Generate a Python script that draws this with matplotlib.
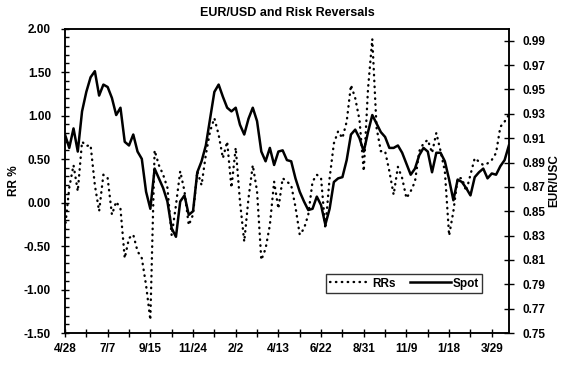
import matplotlib.pyplot as plt
import matplotlib.dates as mdates
import matplotlib.ticker as mticker
import numpy as np
import pandas as pd

plt.rcParams['font.family'] = ['Liberation Sans', 'DejaVu Sans']
plt.rcParams['font.size'] = 8.5
plt.rcParams['font.weight'] = 'bold'

# weekly observations from 4/28/2000
dates = pd.date_range('2000-04-28', periods=105, freq='7D')

spot = [0.913, 0.902, 0.918, 0.899, 0.932, 0.948, 0.960, 0.965, 0.945, 0.954,
        0.952, 0.943, 0.929, 0.935, 0.907, 0.904, 0.913, 0.899, 0.893, 0.866,
        0.852, 0.885, 0.877, 0.869, 0.858, 0.836, 0.829, 0.858, 0.863, 0.847,
        0.850, 0.882, 0.891, 0.904, 0.926, 0.948, 0.954, 0.944, 0.935, 0.932,
        0.935, 0.921, 0.913, 0.926, 0.935, 0.924, 0.899, 0.891, 0.902, 0.888,
        0.899, 0.900, 0.892, 0.891, 0.877, 0.866, 0.858, 0.851, 0.852, 0.862,
        0.855, 0.839, 0.852, 0.874, 0.877, 0.878, 0.892, 0.913, 0.917, 0.910,
        0.899, 0.915, 0.929, 0.922, 0.915, 0.911, 0.902, 0.902, 0.904, 0.898,
        0.889, 0.880, 0.885, 0.896, 0.902, 0.899, 0.882, 0.898, 0.898, 0.891,
        0.876, 0.859, 0.876, 0.874, 0.869, 0.863, 0.878, 0.882, 0.885, 0.877,
        0.881, 0.880, 0.887, 0.892, 0.904]

rr = [-0.30, 0.17, 0.43, 0.13, 0.70, 0.65, 0.66, 0.20, -0.10, 0.32,
      0.28, -0.14, 0.01, -0.07, -0.64, -0.41, -0.37, -0.56, -0.64, -0.95,
      -1.35, 0.60, 0.43, 0.32, 0.17, -0.38, -0.03, 0.36, 0.13, -0.26,
      -0.14, 0.36, 0.20, 0.55, 0.82, 0.97, 0.78, 0.51, 0.70, 0.17,
      0.63, 0.01, -0.45, 0.05, 0.43, 0.13, -0.66, -0.53, -0.26, 0.24,
      -0.07, 0.28, 0.24, 0.20, -0.05, -0.37, -0.30, -0.14, 0.24, 0.32,
      0.28, -0.30, 0.28, 0.68, 0.82, 0.74, 0.93, 1.35, 1.20, 0.95,
      0.36, 1.31, 1.88, 0.86, 0.59, 0.59, 0.36, 0.09, 0.41, 0.28,
      0.05, 0.13, 0.24, 0.59, 0.68, 0.72, 0.57, 0.80, 0.59, 0.36,
      -0.38, -0.10, 0.28, 0.28, 0.13, 0.32, 0.51, 0.47, 0.43, 0.45,
      0.49, 0.57, 0.87, 0.93, 1.01]

tick_dates = pd.date_range('2000-04-28', periods=11, freq='70D')
tick_labels = ['4/28', '7/7', '9/15', '11/24', '2/2', '4/13',
               '6/22', '8/31', '11/9', '1/18', '3/29']

fig = plt.figure(figsize=(5.75, 3.71), dpi=100)
ax = fig.add_axes([0.113, 0.1024, 0.772, 0.8206])
ax2 = ax.twinx()

l1, = ax.plot(dates, rr, color='black', lw=1.7, linestyle=(0, (0.2, 2.3)),
              dash_capstyle='round', label='RRs')
l2, = ax2.plot(dates, spot, color='black', lw=1.8, label='Spot')

ax.set_xlim(pd.Timestamp('2000-04-28'), pd.Timestamp('2002-04-26'))
ax.set_ylim(-1.5, 2.0)
ax2.set_ylim(0.75, 1.00)

ax.xaxis.set_major_locator(mticker.FixedLocator(mdates.date2num(tick_dates)))
ax.xaxis.set_major_formatter(mticker.FixedFormatter(tick_labels))
minor = pd.date_range('2000-06-02', periods=11, freq='70D')
ax.xaxis.set_minor_locator(mticker.FixedLocator(mdates.date2num(minor)))
ax.tick_params(axis='x', which='both', direction='inout', length=6, width=1, pad=4)

ax.yaxis.set_major_locator(mticker.MultipleLocator(0.5))
ax.yaxis.set_minor_locator(mticker.MultipleLocator(0.1))
ax.yaxis.set_major_formatter(mticker.FormatStrFormatter('%.2f'))
ax.tick_params(axis='y', which='major', direction='inout', length=6, width=1, pad=7)
ax.tick_params(axis='y', which='minor', direction='in', length=3, width=1)

ax2.set_yticks(np.arange(0.75, 0.991, 0.02))
ax2.yaxis.set_major_formatter(mticker.FormatStrFormatter('%.2f'))
ax2.tick_params(axis='y', direction='inout', length=7, width=1, pad=6)

for a in (ax, ax2):
    for s in a.spines.values():
        s.set_linewidth(1.1)

ax.set_ylabel('RR %', fontweight='bold', labelpad=3)
ax2.set_ylabel('EUR/USC', fontweight='bold', labelpad=2)

fig.text(0.5, 0.965, 'EUR/USD and Risk Reversals', ha='center', va='center',
         fontsize=9, fontweight='bold', family=['Liberation Sans Narrow', 'Liberation Sans'])

leg = ax2.legend([l1, l2], ['RRs', 'Spot'], ncol=2, loc='lower left',
                 bbox_to_anchor=(0.588, 0.131), borderaxespad=0, frameon=True,
                 fancybox=False, edgecolor='black', handlelength=3.5,
                 handletextpad=0.1, columnspacing=1.2, borderpad=0.3)
leg.get_frame().set_linewidth(1.0)

fig.savefig('out.png', dpi=100)
